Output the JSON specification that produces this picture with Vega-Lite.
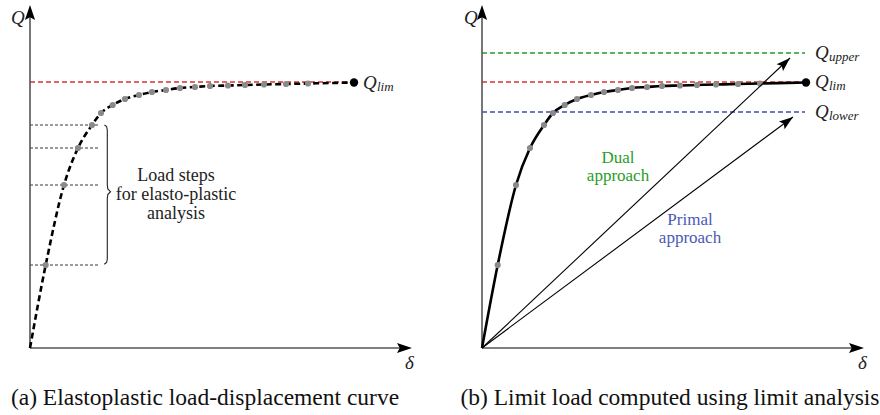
{
  "$schema": "https://vega.github.io/schema/vega-lite/v6.json",
  "padding": 0,
  "spacing": 0,
  "bounds": "flush",
  "background": "white",
  "config": {"view": {"stroke": null}},
  "datasets": {
    "curve": [
      {"d": 0, "Q": 0, "kind": "origin"},
      {"d": 15.7, "Q": 83, "kind": "step"},
      {"d": 34, "Q": 163, "kind": "step"},
      {"d": 48, "Q": 200, "kind": "step"},
      {"d": 62, "Q": 223, "kind": "step"},
      {"d": 71, "Q": 235, "kind": "step"},
      {"d": 82.7, "Q": 243, "kind": "step"},
      {"d": 95, "Q": 249, "kind": "step"},
      {"d": 109, "Q": 253, "kind": "step"},
      {"d": 122, "Q": 256, "kind": "step"},
      {"d": 136, "Q": 258, "kind": "step"},
      {"d": 150, "Q": 260, "kind": "step"},
      {"d": 165, "Q": 261, "kind": "step"},
      {"d": 180, "Q": 262, "kind": "step"},
      {"d": 198, "Q": 262.5, "kind": "step"},
      {"d": 215, "Q": 263, "kind": "step"},
      {"d": 234, "Q": 263.5, "kind": "step"},
      {"d": 256, "Q": 264, "kind": "step"},
      {"d": 278, "Q": 264.5, "kind": "step"},
      {"d": 324, "Q": 265.5, "kind": "end"}
    ],
    "limits": [
      {"kind": "upper", "Q": 295, "d": 0, "d2": 323},
      {"kind": "lim", "Q": 266, "d": 0, "d2": 323},
      {"kind": "lower", "Q": 236, "d": 0, "d2": 323}
    ],
    "steps": [
      {"Q": 223, "d": 0, "d2": 70},
      {"Q": 200, "d": 0, "d2": 70},
      {"Q": 163, "d": 0, "d2": 70},
      {"Q": 83, "d": 0, "d2": 70}
    ],
    "brace": [
      {"i": 1, "d": 74.5, "Q": 223},
      {"i": 2, "d": 76.6, "Q": 221.5},
      {"i": 3, "d": 77.3, "Q": 218},
      {"i": 4, "d": 77.3, "Q": 163},
      {"i": 5, "d": 77.8, "Q": 159},
      {"i": 6, "d": 80.5, "Q": 156.3},
      {"i": 7, "d": 77.8, "Q": 153.5},
      {"i": 8, "d": 77.3, "Q": 149.5},
      {"i": 9, "d": 77.3, "Q": 89},
      {"i": 10, "d": 76.6, "Q": 85.5},
      {"i": 11, "d": 74.3, "Q": 83.7}
    ],
    "axes": [
      {"part": "y", "d": 0, "Q": 0, "d2": 0, "Q2": 333},
      {"part": "x", "d": 0, "Q": 0, "d2": 372, "Q2": 0}
    ],
    "heads": [
      {"part": "y", "d": 0, "Q": 343},
      {"part": "x", "d": 382, "Q": 0}
    ],
    "arrows": [
      {"name": "dual", "d": 0, "Q": 0, "d2": 308, "Q2": 290},
      {"name": "primal", "d": 0, "Q": 0, "d2": 311, "Q2": 231}
    ]
  },
  "hconcat": [
    {
      "width": 440,
      "height": 415,
      "encoding": {
        "x": {"field": "d", "type": "quantitative", "scale": {"domain": [-30, 410], "nice": false, "zero": false}, "axis": null},
        "y": {"field": "Q", "type": "quantitative", "scale": {"domain": [-67, 348], "nice": false, "zero": false}, "axis": null}
      },
      "layer": [
        {
          "data": {"name": "limits"},
          "transform": [{"filter": "datum.kind === 'lim'"}],
          "mark": {"type": "rule", "color": "#d9352b", "strokeWidth": 1.3, "strokeDash": [5, 3]},
          "encoding": {"x2": {"field": "d2"}}
        },
        {
          "data": {"name": "steps"},
          "mark": {"type": "rule", "color": "#222222", "strokeWidth": 0.9, "strokeDash": [3, 2]},
          "encoding": {"x2": {"field": "d2"}}
        },
        {
          "data": {"name": "axes"},
          "mark": {"type": "rule", "color": "#555555", "strokeWidth": 1.6},
          "encoding": {"x2": {"field": "d2"}, "y2": {"field": "Q2"}}
        },
        {
          "data": {"name": "heads"},
          "transform": [{"filter": "datum.part === 'y'"}],
          "mark": {"type": "point", "shape": "M0,0 L-0.34,1 L0,0.82 L0.34,1 Z", "filled": true, "color": "black", "opacity": 1, "size": 900, "angle": 0, "strokeWidth": 0},
          "encoding": {}
        },
        {
          "data": {"name": "heads"},
          "transform": [{"filter": "datum.part === 'x'"}],
          "mark": {"type": "point", "shape": "M0,0 L-0.34,1 L0,0.82 L0.34,1 Z", "filled": true, "color": "black", "opacity": 1, "size": 900, "angle": 90, "strokeWidth": 0},
          "encoding": {}
        },
        {
          "data": {"name": "curve"},
          "mark": {"type": "line", "color": "black", "strokeWidth": 2.6, "strokeDash": [6, 3.5], "interpolate": "monotone"},
          "encoding": {}
        },
        {
          "data": {"name": "brace"},
          "mark": {"type": "line", "color": "#222222", "strokeWidth": 1.1},
          "encoding": {"order": {"field": "i", "type": "quantitative"}}
        },
        {
          "data": {"name": "curve"},
          "transform": [{"filter": "datum.kind === 'step'"}],
          "mark": {"type": "circle", "color": "#8a8a8a", "opacity": 1, "size": 38},
          "encoding": {}
        },
        {
          "data": {"name": "curve"},
          "transform": [{"filter": "datum.kind === 'end'"}],
          "mark": {"type": "circle", "color": "black", "opacity": 1, "size": 70},
          "encoding": {}
        },
        {
          "data": {"values": [{"t": "Load steps\nfor elasto-plastic\nanalysis", "d": 146, "Q": 172}]},
          "mark": {"type": "text", "font": "Liberation Serif", "fontSize": 18, "lineBreak": "\n", "lineHeight": 19, "align": "center", "baseline": "middle", "color": "#222222"},
          "encoding": {"text": {"field": "t"}}
        },
        {
          "data": {"values": [{"t": "Q", "d": -19, "Q": 330}, {"t": "δ", "d": 375, "Q": -15}, {"t": "Q", "d": 333, "Q": 265}]},
          "mark": {"type": "text", "font": "Liberation Serif", "fontSize": 19, "fontStyle": "italic", "align": "left", "baseline": "middle", "color": "#222222"},
          "encoding": {"text": {"field": "t"}}
        },
        {
          "data": {"values": [{"t": "lim", "d": 333, "Q": 265}]},
          "mark": {"type": "text", "font": "Liberation Serif", "fontSize": 13, "fontStyle": "italic", "align": "left", "baseline": "middle", "dx": 14, "dy": 4, "color": "#222222"},
          "encoding": {"text": {"field": "t"}}
        },
        {
          "data": {"values": [{"t": "(a) Elastoplastic load-displacement curve", "d": 175, "Q": -50}]},
          "mark": {"type": "text", "font": "Liberation Serif", "fontSize": 23.5, "align": "center", "baseline": "middle", "color": "#111111"},
          "encoding": {"text": {"field": "t"}}
        }
      ]
    },
    {
      "width": 440,
      "height": 415,
      "encoding": {
        "x": {"field": "d", "type": "quantitative", "scale": {"domain": [-42, 398], "nice": false, "zero": false}, "axis": null},
        "y": {"field": "Q", "type": "quantitative", "scale": {"domain": [-67, 348], "nice": false, "zero": false}, "axis": null}
      },
      "layer": [
        {
          "data": {"name": "limits"},
          "mark": {"type": "rule", "strokeWidth": 1.3, "strokeDash": [5, 3]},
          "encoding": {
            "x2": {"field": "d2"},
            "color": {"field": "kind", "type": "nominal", "scale": {"domain": ["upper", "lim", "lower"], "range": ["#22a02a", "#d9352b", "#3e4fae"]}, "legend": null}
          }
        },
        {
          "data": {"name": "axes"},
          "mark": {"type": "rule", "color": "#555555", "strokeWidth": 1.6},
          "encoding": {"x2": {"field": "d2"}, "y2": {"field": "Q2"}}
        },
        {
          "data": {"name": "heads"},
          "transform": [{"filter": "datum.part === 'y'"}],
          "mark": {"type": "point", "shape": "M0,0 L-0.34,1 L0,0.82 L0.34,1 Z", "filled": true, "color": "black", "opacity": 1, "size": 900, "angle": 0, "strokeWidth": 0},
          "encoding": {}
        },
        {
          "data": {"name": "heads"},
          "transform": [{"filter": "datum.part === 'x'"}],
          "mark": {"type": "point", "shape": "M0,0 L-0.34,1 L0,0.82 L0.34,1 Z", "filled": true, "color": "black", "opacity": 1, "size": 900, "angle": 90, "strokeWidth": 0},
          "encoding": {}
        },
        {
          "data": {"name": "curve"},
          "mark": {"type": "line", "color": "black", "strokeWidth": 2.6, "interpolate": "monotone"},
          "encoding": {}
        },
        {
          "data": {"name": "curve"},
          "transform": [{"filter": "datum.kind === 'step'"}],
          "mark": {"type": "circle", "color": "#8a8a8a", "opacity": 1, "size": 38},
          "encoding": {}
        },
        {
          "data": {"name": "curve"},
          "transform": [{"filter": "datum.kind === 'end'"}],
          "mark": {"type": "circle", "color": "black", "opacity": 1, "size": 70},
          "encoding": {}
        },
        {
          "data": {"name": "arrows"},
          "mark": {"type": "rule", "color": "black", "strokeWidth": 1.1},
          "encoding": {"x2": {"field": "d2"}, "y2": {"field": "Q2"}}
        },
        {
          "data": {"name": "arrows"},
          "transform": [{"filter": "datum.name === 'dual'"}],
          "mark": {"type": "point", "shape": "M0,0 L-0.34,1 L0,0.82 L0.34,1 Z", "filled": true, "color": "black", "opacity": 1, "size": 784, "angle": 46.7, "strokeWidth": 0},
          "encoding": {"x": {"field": "d2", "type": "quantitative"}, "y": {"field": "Q2", "type": "quantitative"}}
        },
        {
          "data": {"name": "arrows"},
          "transform": [{"filter": "datum.name === 'primal'"}],
          "mark": {"type": "point", "shape": "M0,0 L-0.34,1 L0,0.82 L0.34,1 Z", "filled": true, "color": "black", "opacity": 1, "size": 784, "angle": 53.4, "strokeWidth": 0},
          "encoding": {"x": {"field": "d2", "type": "quantitative"}, "y": {"field": "Q2", "type": "quantitative"}}
        },
        {
          "data": {"values": [{"t": "Dual\napproach", "d": 136, "Q": 190.5}]},
          "mark": {"type": "text", "font": "Liberation Serif", "fontSize": 17, "lineBreak": "\n", "lineHeight": 18, "align": "center", "baseline": "middle", "color": "#2a9d2a"},
          "encoding": {"text": {"field": "t"}}
        },
        {
          "data": {"values": [{"t": "Primal\napproach", "d": 208, "Q": 128.5}]},
          "mark": {"type": "text", "font": "Liberation Serif", "fontSize": 17, "lineBreak": "\n", "lineHeight": 18, "align": "center", "baseline": "middle", "color": "#4a5ab5"},
          "encoding": {"text": {"field": "t"}}
        },
        {
          "data": {"values": [{"t": "Q", "d": -18, "Q": 330}, {"t": "δ", "d": 376, "Q": -15}]},
          "mark": {"type": "text", "font": "Liberation Serif", "fontSize": 19, "fontStyle": "italic", "align": "left", "baseline": "middle", "color": "#222222"},
          "encoding": {"text": {"field": "t"}}
        },
        {
          "data": {"name": "limits"},
          "mark": {"type": "text", "font": "Liberation Serif", "fontSize": 19, "fontStyle": "italic", "align": "left", "baseline": "middle", "dx": 10, "color": "#222222", "text": "Q"},
          "encoding": {"x": {"field": "d2", "type": "quantitative"}}
        },
        {
          "data": {"name": "limits"},
          "mark": {"type": "text", "font": "Liberation Serif", "fontSize": 13, "fontStyle": "italic", "align": "left", "baseline": "middle", "dx": 24, "dy": 4, "color": "#222222"},
          "encoding": {"x": {"field": "d2", "type": "quantitative"}, "text": {"field": "kind"}}
        },
        {
          "data": {"values": [{"t": "(b) Limit load computed using limit analysis", "d": 188, "Q": -50}]},
          "mark": {"type": "text", "font": "Liberation Serif", "fontSize": 23.5, "align": "center", "baseline": "middle", "color": "#111111"},
          "encoding": {"text": {"field": "t"}}
        }
      ]
    }
  ]
}
